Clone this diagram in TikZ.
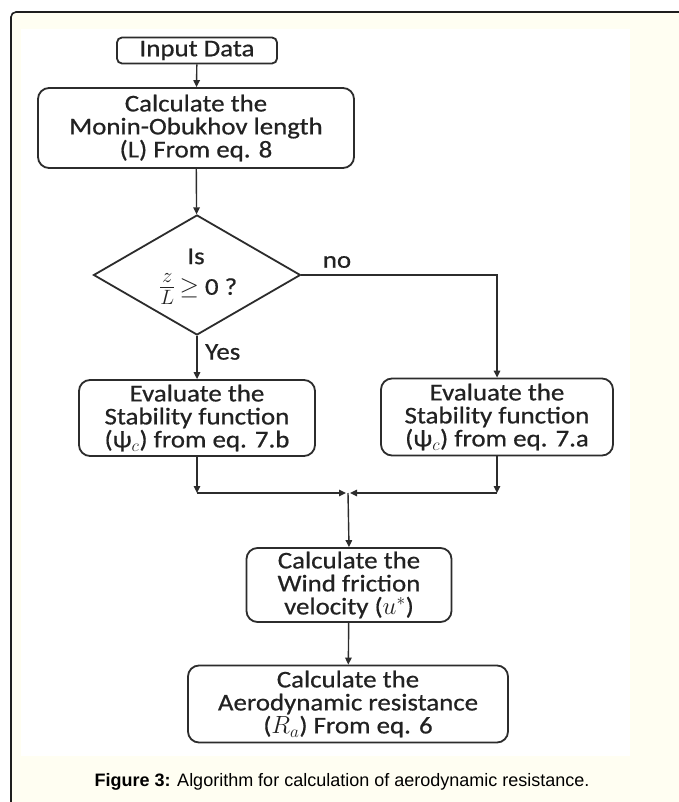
\documentclass[tikz,border=0pt]{standalone}
\usepackage{fontspec}
\setmainfont{Liberation Sans}
\newfontfamily\boxfont[FakeStretch=1.12,FakeBold=0.6]{Carlito}
\usetikzlibrary{shapes.geometric,arrows.meta}

\definecolor{cream}{HTML}{FFFEF2}
\definecolor{frameline}{HTML}{1E1E1E}
\definecolor{boxline}{HTML}{2C2C2C}
\definecolor{inktext}{HTML}{222222}

\tikzset{
  stepbox/.style={draw=boxline, line width=1.8pt, rounded corners=11pt,
    align=center, text=inktext, inner sep=0pt,
    font=\boxfont\fontsize{24}{23}\selectfont},
  decision/.style={diamond, draw=boxline, line width=1.8pt,
    inner sep=0pt, minimum width=207, minimum height=120},
  decisiontext/.style={text=inktext, inner sep=0pt,
    font=\boxfont\fontsize{24}{26}\selectfont},
  conn/.style={draw=boxline, line width=1.4pt,
    -{Triangle[length=7pt,width=6.5pt]}},
  branchlabel/.style={text=inktext, inner sep=0pt,
    font=\boxfont\fontsize{24}{26}\selectfont},
}

\begin{document}
\begin{tikzpicture}[x=1pt,y=-1pt]
\useasboundingbox (0,0) rectangle (678,802);

% page, cream panel with its frame, white drawing area
\fill[white] (0,0) rectangle (678,802);
\fill[cream, rounded corners=5pt] (11,830) -- (11,12) -- (700,12) -- (700,830) -- cycle;
\draw[frameline, line width=1.6pt, rounded corners=5pt] (11,830) -- (11,12) -- (700,12);
\fill[white] (21,29) rectangle (630,756);

% flowchart steps
\node[stepbox, rounded corners=5pt, minimum width=160, minimum height=26] (input) at (197,50.5) {Input Data};
\node[stepbox, minimum width=316, minimum height=80] (monin) at (196,128)
  {Calculate the\\Monin-Obukhov length\\(L) From eq. 8};
\node[decision] (test) at (197,275) {};
\node[decisiontext] (testq) at (196,256.5) {Is};
\node[decisiontext] (testcond) at (198,289.5)
  {\scalebox{1.2}{$\frac{z}{L}$}\,$\geq$ 0 ?};
\node[stepbox, minimum width=236, minimum height=76] (stab) at (197,418)
  {Evaluate the\\Stability function\\(ψ$_{c}$) from eq. 7.b};
\node[stepbox, minimum width=232, minimum height=77] (unst) at (497,417)
  {Evaluate the\\Stability function\\(ψ$_{c}$) from eq. 7.a};
\node[stepbox, minimum width=205, minimum height=74] (wind) at (349,585)
  {Calculate the\\Wind friction\\velocity ($u^{*}$)};
\node[stepbox, minimum width=320, minimum height=77] (aero) at (348,704)
  {Calculate the\\Aerodynamic resistance\\($R_{a}$) From eq. 6};

% branch labels
\node[branchlabel] (nolabel) at (337,262) {no};
\node[branchlabel, anchor=west] (yeslabel) at (205,352) {Yes};

% junction points where the two branches meet
\coordinate (leftcorner) at (197,493);
\coordinate (rightcorner) at (497,493);
\coordinate (merge) at (348,493);

% connectors
\draw[conn] (input) -- (monin);
\draw[conn] (monin) -- (test);
\draw[conn] (test.south) -- (stab.north);
\draw[conn] (test.east) -| (unst.north);
\draw[conn] (stab.south) -- (leftcorner);
\draw[conn] (unst.south) -- (rightcorner);
\draw[conn, shorten >=2pt] (leftcorner) -- (merge);
\draw[conn, shorten >=2pt] (rightcorner) -- (merge);
\draw[conn] (merge) -- (wind.north);
\draw[conn] (wind) -- (aero);

% caption
\node[anchor=base, inner sep=0pt, font=\fontsize{18}{21}\selectfont] (caption) at (342,786)
  {\textbf{Figure 3:} Algorithm for calculation of aerodynamic resistance.};
\end{tikzpicture}
\end{document}
